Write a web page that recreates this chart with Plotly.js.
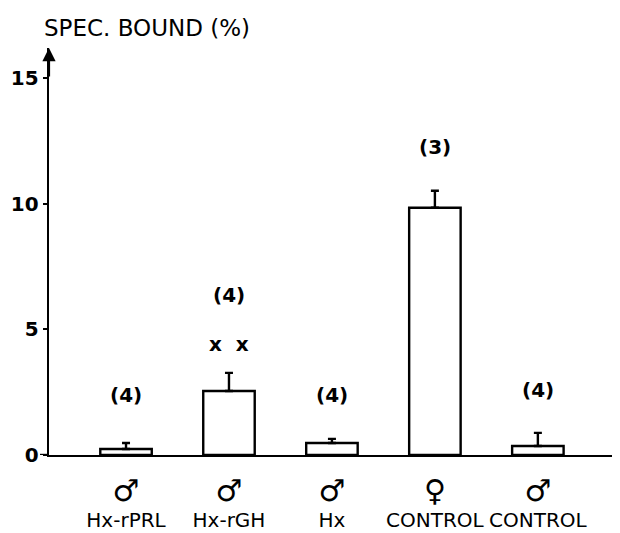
<!DOCTYPE html>
<html>
<head>
<meta charset="utf-8">
<script src="https://cdn.plot.ly/plotly-3.0.1.min.js"></script>
<style>html,body{margin:0;padding:0;background:#fff;}</style>
</head>
<body>
<div id="chart" style="width:620px;height:533px;"></div>
<script>
// Data
var categories = ['Hx-rPRL', 'Hx-rGH', 'Hx', 'CONTROL F', 'CONTROL M'];
var sexSymbols = ['♂', '♂', '♂', '♀', '♂'];
var groupNames = ['Hx-rPRL', 'Hx-rGH', 'Hx', 'CONTROL', 'CONTROL'];
var boundValues = [0.24, 2.55, 0.48, 9.84, 0.36];
var boundErrors = [0.24, 0.72, 0.16, 0.68, 0.52];
var nLabels = ['(4)', '(4)', '(4)', '(3)', '(4)'];
var yTicks = [0, 5, 10, 15];

var tickText = categories.map(function (c, i) {
  return '<span style="font-size:30px">' + sexSymbols[i] + '</span><br>' + groupNames[i];
});

var trace = {
  type: 'bar',
  x: categories,
  y: boundValues,
  width: 0.5,
  marker: { color: '#ffffff', line: { color: '#000000', width: 2.4 } },
  error_y: {
    type: 'data', symmetric: false,
    array: boundErrors,
    arrayminus: boundErrors.map(function () { return 0; }),
    color: '#000000', thickness: 2.4, width: 4
  },
  hoverinfo: 'none'
};

var labelY = [2.4, 6.35, 2.4, 12.25, 2.6];
var annFont = { size: 20, color: '#000', weight: 'bold' };
var annotations = nLabels.map(function (t, i) {
  return { x: categories[i], y: labelY[i], xref: 'x', yref: 'y', text: t, showarrow: false, font: annFont };
});
annotations.push({ x: categories[1], y: 4.42, xref: 'x', yref: 'y', text: 'x  x', showarrow: false, font: annFont });
// axis arrow
annotations.push({ x: 0, y: 1, xref: 'paper', yref: 'paper', text: '', showarrow: true,
                   ax: 0, ay: 30, arrowhead: 2, arrowsize: 1.2, arrowwidth: 2.2, arrowcolor: '#000' });

var layout = {
  width: 620, height: 533,
  margin: { l: 49, r: 8, t: 48, b: 78 },
  paper_bgcolor: '#fff', plot_bgcolor: '#fff',
  font: { family: 'DejaVu Sans, sans-serif', color: '#000', size: 18 },
  title: { text: 'SPEC. BOUND (%)', xref: 'container', yref: 'container', x: 0.071, xanchor: 'left',
           y: 1 - 28 / 533, yanchor: 'middle', font: { size: 23, color: '#000' } },
  showlegend: false,
  xaxis: {
    type: 'category', range: [-0.748, 4.72],
    tickvals: categories, ticktext: tickText,
    showline: true, linecolor: '#000', linewidth: 2.4,
    ticks: '', showgrid: false, zeroline: false, ticklabelstandoff: 20,
    tickfont: { size: 20, color: '#000' }, fixedrange: true
  },
  yaxis: {
    range: [0, 16.2], tickvals: yTicks, ticktext: yTicks.map(String),
    showline: true, linecolor: '#000', linewidth: 2.4,
    ticks: 'outside', ticklen: 4, tickwidth: 2, tickcolor: '#000',
    showgrid: false, zeroline: false,
    tickfont: { size: 20, color: '#000', weight: 'bold' }, fixedrange: true
  },
  shapes: [
    { type: 'line', xref: 'paper', yref: 'y', x0: -0.016, x1: 0, y0: 0, y1: 0,
      line: { color: '#000', width: 2.4 } }
  ],
  annotations: annotations
};

Plotly.newPlot('chart', [trace], layout, { staticPlot: true, displayModeBar: false });
</script>
</body>
</html>
